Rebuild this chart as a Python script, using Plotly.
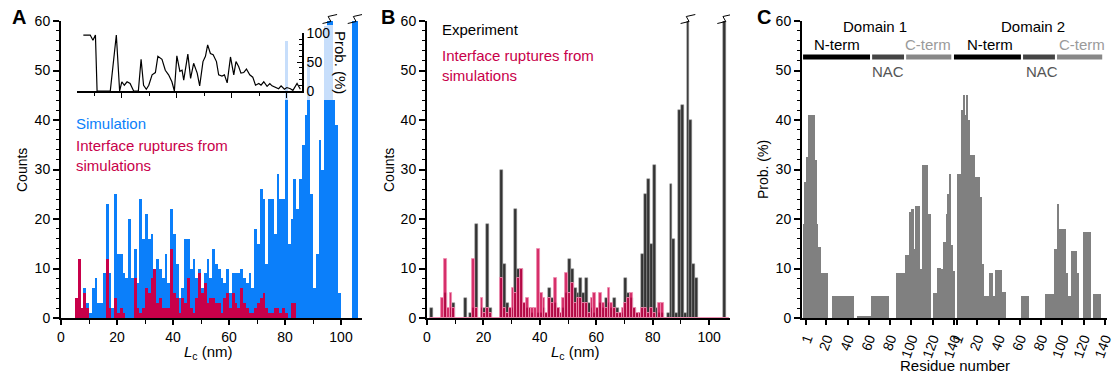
import plotly.graph_objects as go

W, H = 1114, 376
FONT = "Liberation Sans, Arial, sans-serif"

# ---------------- data ----------------
# Panels A/B: 1-nm bins, labelled by lower edge (nm)
lc_bins = list(range(1, 107))
sim_counts = [0, 0, 0, 0, 4, 12, 2, 6, 3, 1,
              6, 8, 3, 3, 9, 23, 9, 2, 25, 13,
              13, 9, 8, 20, 8, 14, 7, 24, 16, 21,
              16, 17, 10, 12, 10, 8, 13, 7, 22, 17,
              11, 4, 6, 16, 16, 10, 12, 8, 10, 6,
              9, 12, 8, 14, 11, 10, 8, 7, 10, 5,
              9, 9, 9, 10, 8, 7, 9, 6, 18, 15,
              26, 24, 11, 24, 24, 17, 29, 24, 24, 56,
              15, 20, 28, 22, 28, 35, 41, 52, 25, 6,
              13, 36, 30, 59, 70, 70, 44, 39, 5, 0,
              0, 0, 0, 70, 70, 0]
rupture_counts = [0, 0, 0, 0, 4, 12, 2, 5, 2, 0,
                  0, 0, 0, 0, 0, 12, 2, 0, 4, 1,
                  2, 1, 0, 0, 0, 8, 2, 1, 2, 6,
                  5, 8, 10, 3, 4, 2, 2, 2, 14, 5,
                  4, 1, 4, 3, 8, 2, 1, 4, 9, 5,
                  7, 3, 4, 4, 3, 3, 1, 4, 5, 2,
                  5, 3, 2, 6, 3, 2, 1, 1, 2, 3,
                  4, 5, 2, 1, 1, 2, 2, 1, 2, 1,
                  0, 3, 3, 0, 0, 0, 0, 0, 0, 0,
                  0, 0, 0, 0, 0, 0, 0, 0, 0, 0,
                  0, 0, 0, 0, 0, 0]
exp_counts = [2, 0, 0, 0, 0, 5, 0, 2, 3, 0,
              0, 0, 4, 0, 1, 2, 19, 0, 2, 2,
              19, 2, 0, 0, 0, 30, 11, 3, 2, 2,
              22, 10, 10, 3, 2, 2, 1, 0, 1, 1,
              2, 1, 6, 4, 3, 2, 1, 2, 5, 12,
              10, 6, 5, 8, 5, 8, 3, 2, 1, 2,
              3, 2, 4, 3, 2, 4, 2, 1, 1, 8,
              5, 4, 2, 1, 1, 13, 25, 28, 15, 31,
              2, 1, 1, 0, 1, 27, 16, 1, 42, 43,
              1, 70, 40, 11, 8, 0, 0, 0, 0, 0,
              0, 0, 0, 0, 70, 0]

# Inset of A: interface-rupture probability (%) vs Lc (nm)
prob_lc = [6, 8.5, 9.5, 10.4, 11, 15.8, 18, 19.2, 20, 20.9,
           21.9, 23, 24.3, 26, 27, 27.9, 28.9, 29.8, 31, 32.2,
           33.1, 34.6, 35.8, 37, 38.2, 39.1, 40, 41.1, 41.9, 42.5,
           44, 45, 46.1, 47.4, 48.3, 49.5, 50.4, 51.2, 52.2, 53.2,
           54.4, 55.2, 56.4, 57.3, 58.3, 59.5, 60.7, 61.5, 62.5, 63.3,
           64.3, 65.3, 66.5, 67.6, 68.6, 69.8, 70.6, 71.6, 72.8, 73.8,
           74.6, 75.8, 77, 77.9, 79.1, 80, 81.3, 82.2, 83.7, 84.9]
prob_pct = [97, 97, 88, 97, 0, 0, 97, 0, 16, 10,
            16, 13, 0, 0, 55, 10, 3, 10, 28, 32,
            60, 55, 36, 28, 16, 0, 61, 34, 36, 19,
            64, 22, 48, 31, 9, 51, 60, 80, 65, 63,
            51, 28, 26, 28, 14, 59, 28, 51, 42, 31,
            32, 38, 28, 24, 10, 13, 10, 16, 8, 13,
            9, 6, 4, 9, 3, 6, 4, 1, 13, 3]

# Panel C: rupture probability per residue segment (start, end residue, %)
d1_start = [-2, -0.5, 1, 3, 9.5, 11, 12.5, 14.5, 25.5, 48.5, 62, 85, 93.5, 98.5, 100, 102.5,
            103.5, 108, 109.5, 115.5, 120.5, 124, 128, 130, 132.5, 134, 135.5, 137, 139]
d1_end = [-0.5, 1, 3, 9.5, 11, 12.5, 14.5, 21.5, 46, 62, 79, 93.5, 98.5, 100, 102.5, 103.5,
          108, 109.5, 115.5, 118.5, 124, 128, 130, 132.5, 134, 135.5, 137, 139, 141]
d1_prob = [19, 27.5, 32.5, 41, 32, 19, 14.4, 9, 4.5, 0.5, 4.5, 9, 12.8, 21.5, 22, 14,
           22.6, 10, 31, 21, 5, 10.2, 9.8, 15.4, 21, 25, 29, 14.7, 9.4]
d2_start = [0.5, 5.5, 7, 8.5, 10, 11.5, 13, 18, 22.5, 24.5, 25.5, 30.5, 34.5, 36.5, 43.5,
            61.5, 84, 92.5, 95, 97, 103, 105, 108, 114, 119.5, 129]
d2_end = [5.5, 7, 8.5, 10, 11.5, 13, 18, 22.5, 24.5, 25.5, 30.5, 34.5, 36.5, 43.5, 46.5,
          68.5, 92.5, 95, 97, 103, 105, 108, 114, 116, 127, 136]
d2_prob = [29, 42, 45, 41, 45, 40, 33, 28.5, 24.5, 11, 4.4, 9, 4.4, 9.7, 5.2,
           4.4, 4.8, 14, 23, 18, 9, 4.4, 13.6, 9, 17.3, 4.8]
residue_ticks = [1, 20, 40, 60, 80, 100, 120, 140]
regions = ["N-term", "NAC", "C-term"]
region_start = [-2, 63, 95]
region_end = [61, 93, 137.5]
DOMAIN2_OFFSET = 142

# ---------------- style ----------------
BLUE = "#0b7ffa"
LIGHTBLUE = "#c7defb"
RED = "#c8004a"
DARK = "#333333"
GRAY = "#808080"
TICK = 14


def pxx(px):
    return px / W


def pxy(py):
    return 1 - py / H


fig = go.Figure()

# ---- Panel A ----
xa = [b + 0.5 for b in lc_bins]
box_right, box_lo, box_hi = 98.0, 44.0, 59.2
dark, light, cap = [], [], []
for x, v in zip(xa, sim_counts):
    if x < box_right:
        dark.append(min(v, box_lo))
        light.append(max(min(v, box_hi) - box_lo, 0))
        cap.append(max(v - box_hi, 0))
    else:
        dark.append(v)
        light.append(0)
        cap.append(0)
fig.add_trace(go.Bar(x=xa, y=dark, width=1, marker=dict(color=BLUE, line_width=0),
                     xaxis="x", yaxis="y", showlegend=False))
fig.add_trace(go.Bar(x=xa, y=light, base=box_lo, width=1, marker=dict(color=LIGHTBLUE, line_width=0),
                     xaxis="x", yaxis="y", showlegend=False))
fig.add_trace(go.Bar(x=xa, y=cap, base=box_hi, width=1, marker=dict(color=BLUE, line_width=0),
                     xaxis="x", yaxis="y", showlegend=False))
fig.add_trace(go.Bar(x=xa, y=rupture_counts, width=1, marker=dict(color=RED, line_width=0),
                     xaxis="x", yaxis="y", showlegend=False))

# inset
fig.add_trace(go.Scatter(x=prob_lc, y=prob_pct, mode="lines", line=dict(color="black", width=1.2),
                         xaxis="x4", yaxis="y4", showlegend=False))

# ---- Panel B ----
fig.add_trace(go.Bar(x=xa, y=exp_counts, width=1,
                     marker=dict(color=DARK, line=dict(color="#9a9a9a", width=0.5)),
                     xaxis="x2", yaxis="y2", showlegend=False))
fig.add_trace(go.Bar(x=xa, y=rupture_counts, width=1,
                     marker=dict(color="rgba(205,0,72,0.82)", line=dict(color="#ee8cb0", width=0.9)),
                     xaxis="x2", yaxis="y2", showlegend=False))

# ---- Panel C ----
fig.add_trace(go.Bar(x=[(s + e) / 2 for s, e in zip(d1_start, d1_end)], y=d1_prob,
                     width=[e - s for s, e in zip(d1_start, d1_end)],
                     marker=dict(color=GRAY, line_width=0), xaxis="x3", yaxis="y3", showlegend=False))
fig.add_trace(go.Bar(x=[(s + e) / 2 + DOMAIN2_OFFSET for s, e in zip(d2_start, d2_end)], y=d2_prob,
                     width=[e - s for s, e in zip(d2_start, d2_end)],
                     marker=dict(color=GRAY, line_width=0), xaxis="x3", yaxis="y3", showlegend=False))

# ---------------- axes ----------------
ydom = [pxy(318), pxy(21)]
yax = dict(range=[0, 60], tickvals=[0, 10, 20, 30, 40, 50, 60], ticks="outside", ticklen=6,
           tickwidth=1.6, tickcolor="black", showline=True, linewidth=2, linecolor="black",
           showgrid=False, zeroline=False, automargin=False,
           tickfont=dict(size=TICK, color="black", family=FONT),
           minor=dict(dtick=2, ticks="outside", ticklen=3, tickwidth=1.4, tickcolor="black", showgrid=False))
xax = dict(tick0=0, dtick=20, ticks="outside", ticklen=5, tickwidth=1.6, tickcolor="black",
           showline=True, linewidth=2, linecolor="black", showgrid=False, zeroline=False,
           automargin=False, tickfont=dict(size=TICK, color="black", family=FONT),
           minor=dict(dtick=10, ticks="outside", ticklen=4, tickwidth=1.4, tickcolor="black", showgrid=False))

layout = dict(
    width=W, height=H, margin=dict(l=0, r=0, t=0, b=0, autoexpand=False),
    paper_bgcolor="white", plot_bgcolor="rgba(0,0,0,0)",
    barmode="overlay", bargap=0, showlegend=False,
    font=dict(family=FONT, size=13, color="black"),
    xaxis=dict(xax, domain=[pxx(61), pxx(362)], range=[0, 107.5], anchor="y"),
    yaxis=dict(yax, domain=ydom, anchor="x"),
    xaxis2=dict(xax, domain=[pxx(427), pxx(730)], range=[0, 107.4], anchor="y2"),
    yaxis2=dict(yax, domain=ydom, anchor="x2"),
    xaxis3=dict(domain=[pxx(802), pxx(1107)], range=[-3, 284], anchor="y3", automargin=False,
                tickvals=residue_ticks + [r + DOMAIN2_OFFSET for r in residue_ticks],
                ticktext=[str(r) for r in residue_ticks] * 2, tickangle=-70,
                ticklabeloverflow="allow",
                ticks="outside", ticklen=5, tickwidth=1.6, tickcolor="black",
                showline=True, linewidth=2, linecolor="black", showgrid=False, zeroline=False,
                tickfont=dict(size=TICK, color="black", family=FONT)),
    yaxis3=dict(yax, domain=ydom, anchor="x3"),
    xaxis4=dict(domain=[pxx(77), pxx(302)], range=[3.7, 85.5], anchor="y4", automargin=False,
                tickvals=[20, 40, 60, 80], ticks="outside", ticklen=5, tickwidth=1.4, tickcolor="black",
                showticklabels=False, showline=True, linewidth=1.6, linecolor="black",
                showgrid=False, zeroline=False,
                minor=dict(tickvals=[10, 30, 50, 70], ticks="outside", ticklen=3, tickwidth=1.2,
                           tickcolor="black", showgrid=False)),
    yaxis4=dict(domain=[pxy(91), pxy(33.3)], range=[0, 100], anchor="x4", side="right", automargin=False,
                tickvals=[0, 50, 100], ticks="inside", ticklen=5, tickwidth=1.4, tickcolor="black",
                showline=True, linewidth=1.6, linecolor="black", showgrid=False, zeroline=False,
                tickfont=dict(size=TICK, color="black", family=FONT),
                minor=dict(dtick=10, ticks="inside", ticklen=3, tickwidth=1.2, tickcolor="black",
                           showgrid=False)),
)

# ---------------- annotations ----------------
ann = []


def text(px, py, s, size=14, color="black", xanchor="center", yanchor="middle", angle=0, bold=False):
    if bold:
        s = "<b>" + s + "</b>"
    ann.append(dict(x=pxx(px), y=pxy(py), xref="paper", yref="paper", text=s, showarrow=False,
                    xanchor=xanchor, yanchor=yanchor, textangle=angle, align="left",
                    font=dict(size=size, color=color, family=FONT)))


text(19, 17, "A", size=20, bold=True)
text(388, 17, "B", size=20, bold=True)
text(764, 17, "C", size=20, bold=True)
text(22, 170, "Counts", angle=-90)
text(389, 170, "Counts", angle=-90)
text(763, 170, "Prob. (%)", angle=-90)
text(208, 352, "<i>L</i><sub>c</sub> (nm)", size=15)
text(575, 352, "<i>L</i><sub>c</sub> (nm)", size=15)
text(955, 365, "Residue number", size=15)
text(340, 62, "Prob. (%)", angle=90, size=15)
text(74, 123, "Simulation", size=15, color=BLUE, xanchor="left")
text(74, 155, "Interface ruptures from<br>simulations", size=15, color=RED, xanchor="left")
text(440, 30, "Experiment", size=15, xanchor="left")
text(440, 65, "Interface ruptures from<br>simulations", size=15, color=RED, xanchor="left")
text(875, 27, "Domain 1", size=15)
text(1033, 27, "Domain 2", size=15)
text(837, 45, "N-term", size=15)
text(928, 45, "C-term", size=15, color="#9a9a9a")
text(888, 72, "NAC", size=15, color="#555555")
text(990, 45, "N-term", size=15)
text(1082, 45, "C-term", size=15, color="#9a9a9a")
text(1042, 72, "NAC", size=15, color="#555555")
layout["annotations"] = ann

# ---------------- shapes ----------------
shapes = []
region_colors = ["#000000", "#444444", "#888888"]
for off in (0, DOMAIN2_OFFSET):
    for s, e, c in zip(region_start, region_end, region_colors):
        shapes.append(dict(type="line", xref="x3", yref="paper", x0=s + off, x1=e + off,
                           y0=pxy(57), y1=pxy(57), line=dict(color=c, width=5)))


def breaks(xref, centers, values, ymax=60):
    groups = []
    cur = []
    for x, v in zip(centers, values):
        if v > ymax:
            cur.append(x)
        elif cur:
            groups.append(cur)
            cur = []
    if cur:
        groups.append(cur)
    for g in groups:
        xc = sum(g) / len(g)
        pts = [(xc - 2.6, 23.5), (xc + 0.4, 21.5), (xc - 0.6, 16.5), (xc + 2.6, 14.5)]
        path = "M " + " L ".join(f"{x},{pxy(y)}" for x, y in pts)
        shapes.append(dict(type="path", xref=xref, yref="paper", path=path,
                           line=dict(color="black", width=1)))


breaks("x", xa, sim_counts)
breaks("x2", xa, exp_counts)
layout["shapes"] = shapes

fig.update_layout(**layout)
fig.write_html("out.html")
